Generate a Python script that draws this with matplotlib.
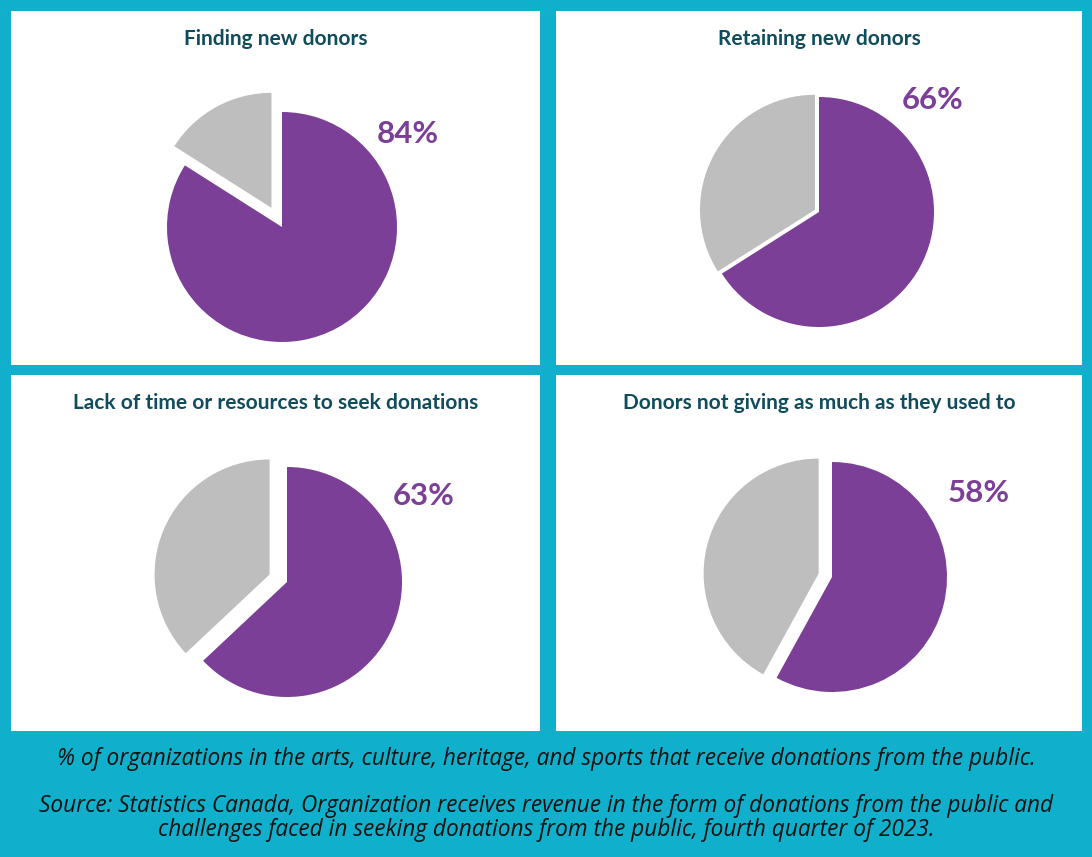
import matplotlib.pyplot as plt

# Data
titles = ['Finding new donors', 'Retaining new donors',
          'Lack of time or resources to seek donations',
          'Donors not giving as much as they used to']
share = [84, 66, 63, 58]
explode_grey = [0.19, 0.04, 0.165, 0.12]

caption1 = '% of organizations in the arts, culture, heritage, and sports that receive donations from the public.'
caption2 = ('Source: Statistics Canada, Organization receives revenue in the form of donations from the public and\n'
            'challenges faced in seeking donations from the public, fourth quarter of 2023.')

# Colours
teal = '#10AFCB'
purple = '#7B3F98'
grey = '#BEBEBE'
title_col = '#0F4C5C'

W, H = 1092, 857
fig = plt.figure(figsize=(W / 100, H / 100), dpi=100, facecolor=teal)

# white panels (left, top, right, bottom in pixels)
panels = [(11, 11, 540, 365), (556, 11, 1082, 365),
          (11, 375, 540, 731), (556, 375, 1082, 731)]
# pie centres in pixels and label offsets (in pie radii)
centres = [(282, 227), (819, 212), (287, 582), (832, 577)]
label_xy = [(1.09, 0.81), (0.99, 0.97), (1.19, 0.75), (1.28, 0.73)]
R = 115
lim = 1.3

for i in range(4):
    l, t, r, b = panels[i]
    pax = fig.add_axes([l / W, 1 - b / H, (r - l) / W, (b - t) / H])
    pax.set_facecolor('white')
    pax.set_xticks([])
    pax.set_yticks([])
    for s in pax.spines.values():
        s.set_visible(False)

    fig.text((l + r) / 2 / W, 1 - (t + 28) / H, titles[i], ha='center', va='center',
             fontsize=15, fontweight='bold', color=title_col, family='Lato')

    cx, cy = centres[i]
    size = 2 * lim * R
    ax = fig.add_axes([(cx - size / 2) / W, 1 - (cy + size / 2) / H, size / W, size / H])
    ax.pie([share[i], 100 - share[i]], colors=[purple, grey], startangle=90,
           counterclock=False, explode=[0, explode_grey[i]],
           wedgeprops=dict(linewidth=0))
    ax.set_xlim(-lim, lim)
    ax.set_ylim(-lim, lim)
    ax.set_aspect('equal')
    ax.axis('off')
    ax.text(label_xy[i][0], label_xy[i][1], f'{share[i]}%', ha='center', va='center',
            fontsize=22.5, fontweight='bold', color=purple, family='Lato')

fig.text(546 / W, 1 - 759 / H, caption1, ha='center', va='center', fontsize=16.3,
         style='italic', color='#111111', family='Open Sans')
fig.text(546 / W, 1 - 818 / H, caption2, ha='center', va='center', fontsize=16.3,
         style='italic', color='#111111', family='Open Sans', linespacing=0.97)

fig.savefig('out.png', dpi=100, facecolor=teal)
